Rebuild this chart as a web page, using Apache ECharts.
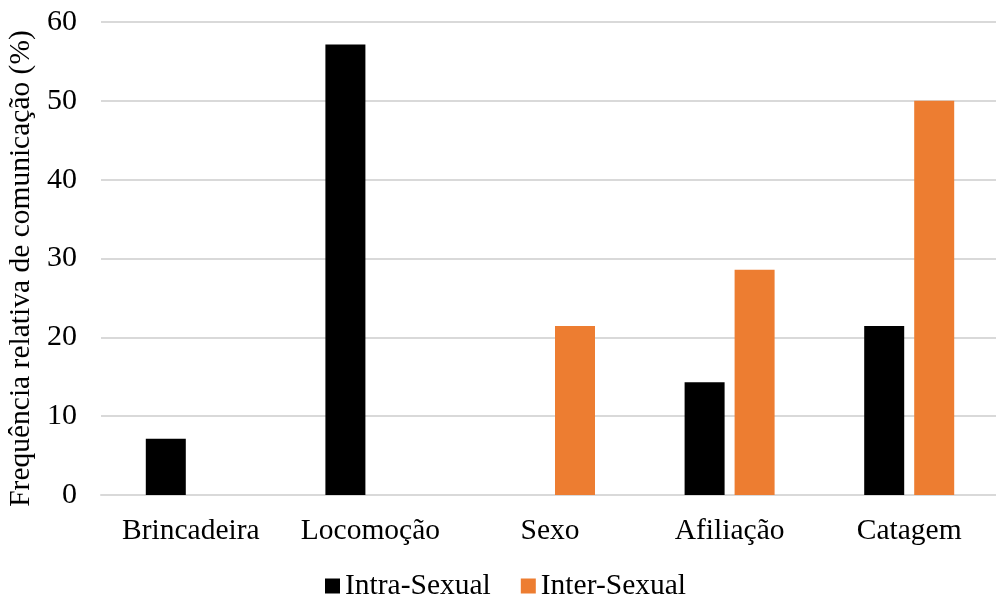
<!DOCTYPE html>
<html>
<head>
<meta charset="utf-8">
<script src="https://cdn.jsdelivr.net/npm/echarts@6/dist/echarts.min.js"></script>
<style>
html,body{margin:0;padding:0;background:#fff;}
#chart{width:996px;height:601px;}
</style>
</head>
<body>
<div id="chart"></div>
<script>
// Categories and relative frequencies (%) per behaviour
const categories = ['Brincadeira', 'Locomoção', 'Sexo', 'Afiliação', 'Catagem'];
const intraSexual = [7.14, 57.14, 0, 14.29, 21.43];
const interSexual = [0, 0, 21.43, 28.57, 50];
const yTicks = { min: 0, max: 60, interval: 10 };

const font = '"Liberation Serif", "Times New Roman", serif';
const chart = echarts.init(document.getElementById('chart'));
chart.setOption({
  animation: false,
  textStyle: { fontFamily: font, color: '#000' },
  grid: { left: 101, right: -3, top: 22, bottom: 106, outerBoundsMode: 'none' },
  legend: {
    bottom: -5,
    left: 320,
    itemWidth: 15,
    itemHeight: 15,
    itemGap: 30,
    icon: 'rect',
    textStyle: { fontFamily: font, fontSize: 29.5, color: '#000' },
    data: ['Intra-Sexual', 'Inter-Sexual']
  },
  xAxis: {
    type: 'category',
    data: categories,
    axisLine: { lineStyle: { color: '#d9d9d9', width: 2 } },
    axisTick: { show: false },
    axisLabel: { fontFamily: font, fontSize: 29.5, color: '#000', margin: 21, interval: 0 }
  },
  yAxis: {
    type: 'value',
    min: yTicks.min,
    max: yTicks.max,
    interval: yTicks.interval,
    name: 'Frequência relativa de comunicação (%)',
    nameLocation: 'middle',
    nameGap: 60,
    nameTextStyle: { fontFamily: font, fontSize: 29.5, color: '#000', padding: [0, 20, 0, 0] },
    axisLine: { show: false },
    axisTick: { show: false },
    axisLabel: { fontFamily: font, fontSize: 30, color: '#000', margin: 24 },
    splitLine: { lineStyle: { color: '#d9d9d9', width: 2 } }
  },
  series: [
    {
      name: 'Intra-Sexual',
      type: 'bar',
      data: intraSexual,
      itemStyle: { color: '#000000' },
      barWidth: 40,
      barGap: '25%'
    },
    {
      name: 'Inter-Sexual',
      type: 'bar',
      data: interSexual,
      itemStyle: { color: '#ed7d31' },
      barWidth: 40,
      barGap: '25%'
    }
  ]
});
</script>
</body>
</html>
